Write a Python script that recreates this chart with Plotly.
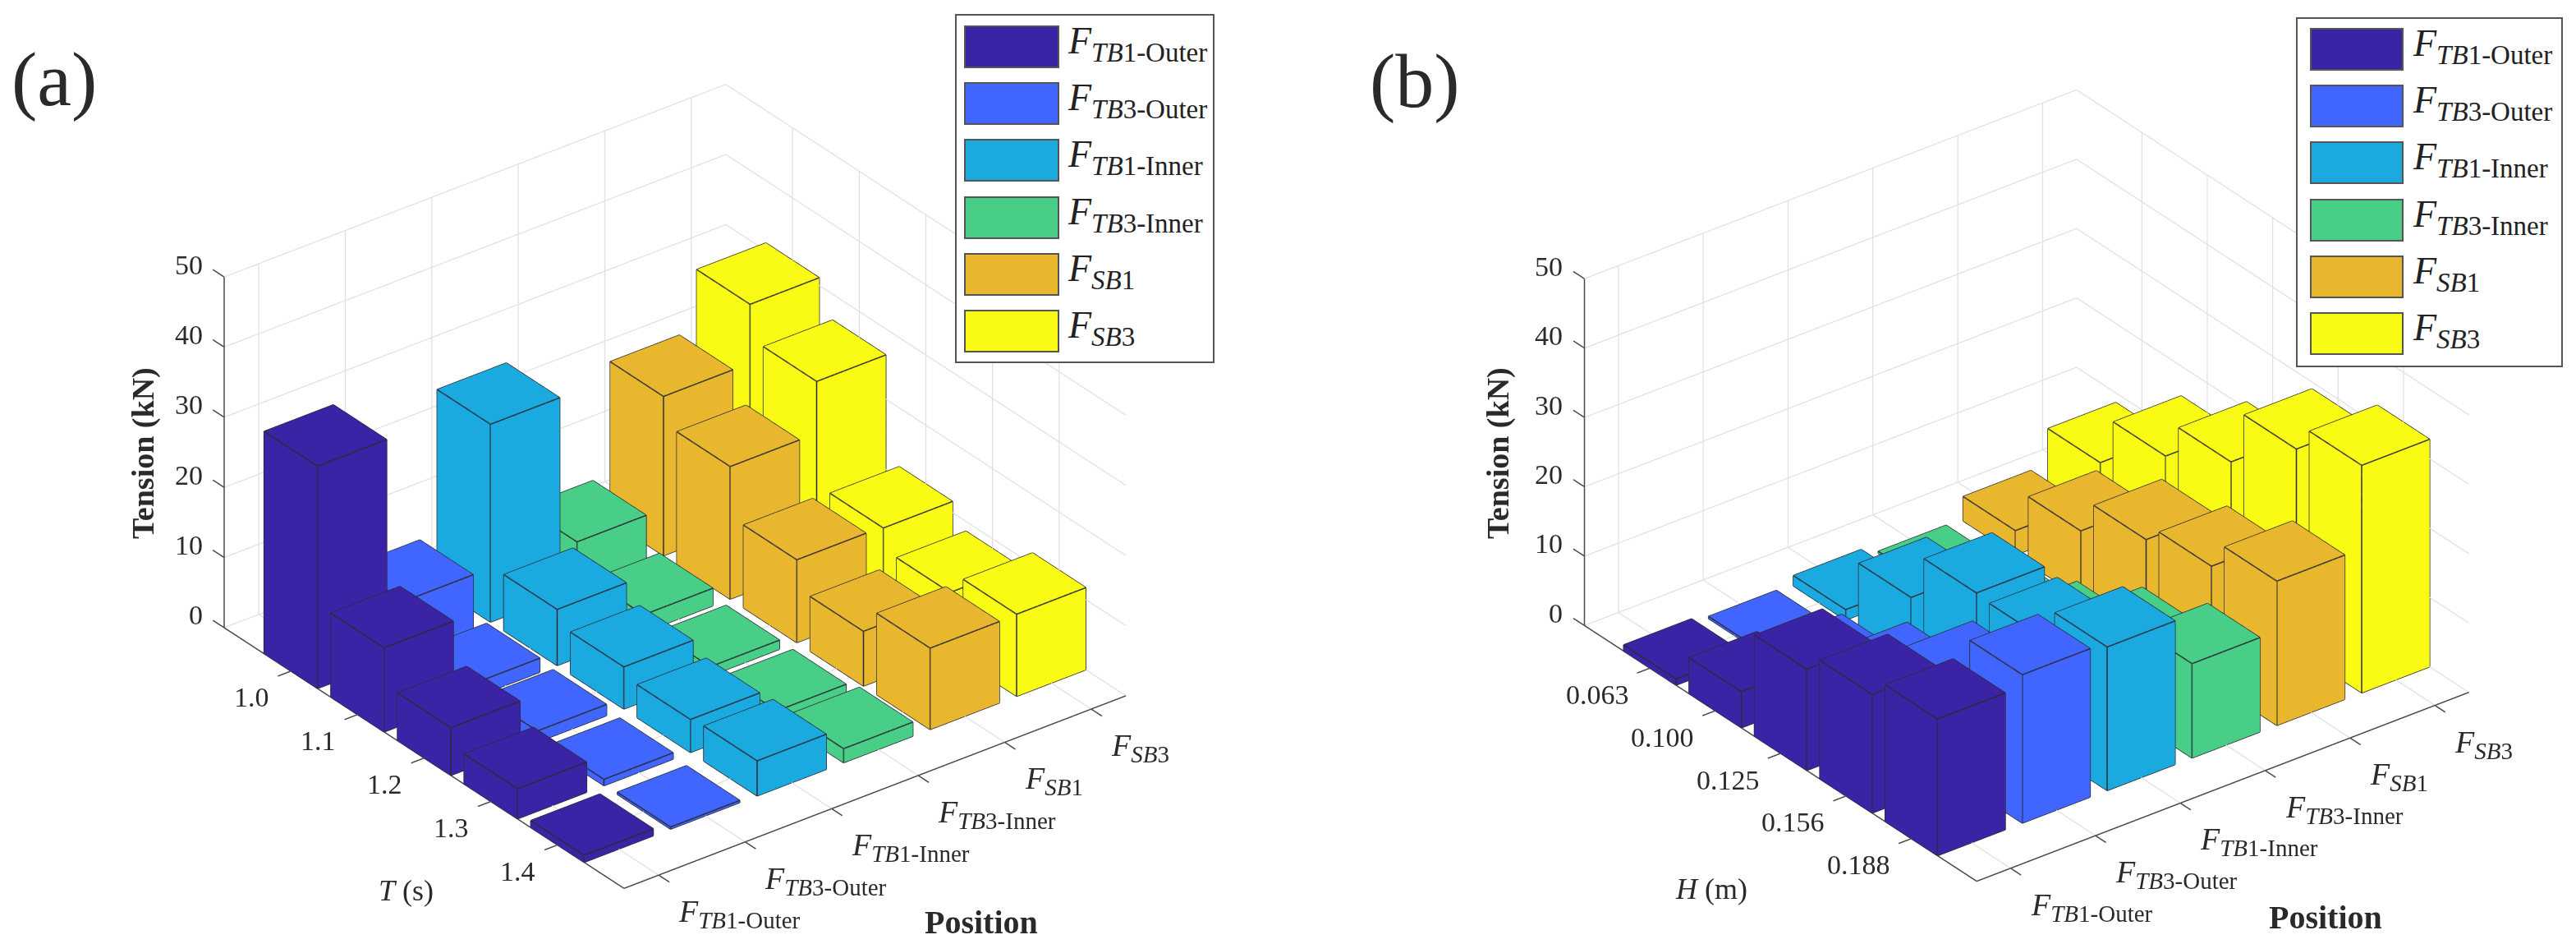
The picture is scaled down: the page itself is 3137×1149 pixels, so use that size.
import math
import plotly.graph_objects as go

W, H = 3137, 1149
FONT = "Liberation Serif"
TXT = "#2a2a2a"


def sub_label(main, plain, size):
    return f'<i>F</i><sub><span style="font-size:{size}px"><i>{main}</i>{plain}</span></sub>'


T_LABELS = ["1.0", "1.1", "1.2", "1.3", "1.4"]
H_LABELS = ["0.063", "0.100", "0.125", "0.156", "0.188"]
POS_PARTS = [("TB", "1-Outer"), ("TB", "3-Outer"), ("TB", "1-Inner"), ("TB", "3-Inner"), ("SB", "1"), ("SB", "3")]
COLORS = ["#3B23A6", "#4166FF", "#1AAAE0", "#48CE87", "#E9B72E", "#F9FB14"]
Z_TICKS = [0, 10, 20, 30, 40, 50]

# Panel (a): tension against wave period, one list per position
a_tb1_outer = [31.7, 12.0, 6.8, 4.3, 1.0]
a_tb3_outer = [7.7, 2.0, 1.6, 0.9, 0.3]
a_tb1_inner = [28.2, 8.0, 6.0, 4.7, 5.0]
a_tb3_inner = [6.7, 2.5, 1.3, 1.2, 2.0]
a_sb1 = [22.7, 18.9, 11.8, 7.8, 11.6]
a_sb3 = [31.1, 26.3, 11.6, 8.6, 11.7]
# Panel (b): tension against wave height
b_tb1_outer = [0.9, 5.2, 14.6, 17.1, 19.7]
b_tb3_outer = [0.3, 3.0, 8.0, 14.3, 21.4]
b_tb1_inner = [1.5, 9.4, 16.2, 15.9, 20.7]
b_tb3_inner = [0.3, 2.0, 4.5, 9.8, 13.6]
b_sb1 = [3.5, 9.6, 14.5, 16.8, 20.8]
b_sb3 = [8.6, 15.7, 21.0, 29.0, 32.8]

XLIM = (0.0, 6.0)
YLIM = (0.6, 6.4)
ZLIM = (0, 50)
MX, MY = 0.2, 0.2
BW = 0.4
AZ = math.radians(52.5)
EL = math.radians(30)


def box_mesh(series):
    xs, ys, zs, i, j, k = [], [], [], [], [], []
    ex, ey, ez = [], [], []
    faces = [(0, 1, 2), (0, 2, 3), (4, 5, 6), (4, 6, 7), (0, 1, 5), (0, 5, 4),
             (1, 2, 6), (1, 6, 5), (2, 3, 7), (2, 7, 6), (3, 0, 4), (3, 4, 7)]
    edges = [(0, 1), (1, 2), (2, 3), (3, 0), (4, 5), (5, 6), (6, 7), (7, 4),
             (0, 4), (1, 5), (2, 6), (3, 7)]
    for col, vals in series:
        for row, v in enumerate(vals, start=1):
            x0, x1 = row - BW, row + BW
            y0, y1 = col - BW, col + BW
            n = len(xs)
            pts = [(x0, y0, 0), (x1, y0, 0), (x1, y1, 0), (x0, y1, 0),
                   (x0, y0, v), (x1, y0, v), (x1, y1, v), (x0, y1, v)]
            xs += [p[0] for p in pts]
            ys += [p[1] for p in pts]
            zs += [p[2] for p in pts]
            for a, b, c in faces:
                i.append(n + a); j.append(n + b); k.append(n + c)
            for a, b in edges:
                ex += [pts[a][0], pts[b][0], None]
                ey += [pts[a][1], pts[b][1], None]
                ez += [pts[a][2], pts[b][2], None]
    return xs, ys, zs, i, j, k, ex, ey, ez


def segs(items):
    ex, ey, ez = [], [], []
    for a, b in items:
        ex += [a[0], b[0], None]
        ey += [a[1], b[1], None]
        ez += [a[2], b[2], None]
    return ex, ey, ez


def add_panel(fig, scene, rows, columns):
    ncol = len(columns)
    nrow = len(rows)
    xl, yl, zl = XLIM, YLIM, ZLIM
    grid = []
    for y in range(1, ncol + 1):
        grid += [((xl[0], y, zl[0]), (xl[0], y, zl[1])), ((xl[0], y, 0), (xl[1], y, 0))]
    for x in range(1, nrow + 1):
        grid += [((x, yl[1], zl[0]), (x, yl[1], zl[1])), ((x, yl[0], 0), (x, yl[1], 0))]
    for z in Z_TICKS:
        grid += [((xl[0], yl[0], z), (xl[0], yl[1], z)), ((xl[0], yl[1], z), (xl[1], yl[1], z))]
    gx, gy, gz = segs(grid)
    fig.add_trace(go.Scatter3d(x=gx, y=gy, z=gz, mode="lines", scene=scene, hoverinfo="skip",
                               showlegend=False, line=dict(color="#e0e0e0", width=2.5)))
    axes = [((xl[0], yl[0], zl[0]), (xl[0], yl[0], zl[1])),
            ((xl[0], yl[0], 0), (xl[1], yl[0], 0)),
            ((xl[1], yl[0], 0), (xl[1], yl[1], 0))]
    for z in Z_TICKS:
        axes.append(((xl[0], yl[0], z), (xl[0] - 0.17, yl[0], z)))
    for x in range(1, nrow + 1):
        axes.append(((x, yl[0], 0), (x, yl[0] - 0.15, 0)))
    for y in range(1, ncol + 1):
        axes.append(((xl[1], y, 0), (xl[1] + 0.16, y, 0)))
    ax_x, ax_y, ax_z = segs(axes)
    fig.add_trace(go.Scatter3d(x=ax_x, y=ax_y, z=ax_z, mode="lines", scene=scene, hoverinfo="skip",
                               showlegend=False, line=dict(color="#4a4a4a", width=3)))
    for col, vals in enumerate(columns, start=1):
        xs, ys, zs, i, j, k, ex, ey, ez = box_mesh([(col, vals)])
        fig.add_trace(go.Mesh3d(x=xs, y=ys, z=zs, i=i, j=j, k=k, color=COLORS[col - 1], scene=scene,
                                flatshading=True, hoverinfo="skip", showlegend=False,
                                lighting=dict(ambient=1, diffuse=0, specular=0, roughness=1, fresnel=0)))
        fig.add_trace(go.Scatter3d(x=ex, y=ey, z=ez, mode="lines", scene=scene, hoverinfo="skip",
                                   showlegend=False, line=dict(color="#2a2a33", width=3)))


def hidden_axis(lo, hi):
    return dict(range=[lo, hi], showgrid=False, zeroline=False, showline=False, showticklabels=False,
                ticks="", showbackground=False, showspikes=False, title=dict(text=""), autorange=False)


def scene_layout(cx, cy, half_w, half_h, scale, xyscale, rows):
    anns = []
    for idx, lab in enumerate(rows, start=1):
        anns.append(dict(x=idx, y=YLIM[0], z=0, text=lab, showarrow=False, xshift=rows_shift[len(lab)], yshift=-32,
                         font=dict(family=FONT, size=34, color=TXT)))
    for idx, (m, p) in enumerate(POS_PARTS, start=1):
        anns.append(dict(x=XLIM[1], y=idx, z=0, text=sub_label(m, p, 29), showarrow=False, xanchor="left",
                         xshift=22, yshift=-47, font=dict(family=FONT, size=38, color=TXT)))
    for z in Z_TICKS:
        anns.append(dict(x=XLIM[0], y=YLIM[0], z=z, text=str(z), showarrow=False, xanchor="right", xshift=-24,
                         yshift=15, font=dict(family=FONT, size=34, color=TXT)))
    e = (math.sin(AZ) * math.cos(EL), -math.cos(AZ) * math.cos(EL), math.sin(EL))
    sx = (XLIM[1] - XLIM[0] + 2 * MX) / (XLIM[1] - XLIM[0])
    sy = (YLIM[1] - YLIM[0] + 2 * MY) / (YLIM[1] - YLIM[0])
    return dict(
        domain=dict(x=[(cx - half_w) / W, (cx + half_w) / W], y=[1 - (cy + half_h) / H, 1 - (cy - half_h) / H]),
        xaxis=hidden_axis(XLIM[0] - MX, XLIM[1] + MX),
        yaxis=hidden_axis(YLIM[0] - MY, YLIM[1] + MY),
        zaxis=hidden_axis(ZLIM[0], ZLIM[1]),
        aspectmode="manual",
        aspectratio=dict(x=1.61 * sx * scale * xyscale, y=1.55 * sy * scale * xyscale, z=1.0 * scale),
        camera=dict(eye=dict(x=e[0] * 2, y=e[1] * 2, z=e[2] * 2), up=dict(x=0, y=0, z=1),
                    center=dict(x=0, y=0, z=0), projection=dict(type="orthographic")),
        annotations=anns,
        bgcolor="rgba(0,0,0,0)",
    )


rows_shift = {3: -48, 5: -64}

fig = go.Figure()
add_panel(fig, "scene", T_LABELS, [a_tb1_outer, a_tb3_outer, a_tb1_inner, a_tb3_inner, a_sb1, a_sb3])
add_panel(fig, "scene2", H_LABELS, [b_tb1_outer, b_tb3_outer, b_tb1_inner, b_tb3_inner, b_sb1, b_sb3])


def paper(x, y, text, size, bold=False, angle=0, anchor="center"):
    t = f"<b>{text}</b>" if bold else text
    return dict(xref="paper", yref="paper", x=x / W, y=1 - y / H, text=t, showarrow=False, textangle=angle,
                xanchor=anchor, yanchor="middle", font=dict(family=FONT, size=size, color=TXT))


def legend(x0, x1, y0, y1, sw0, sw1, first, text_x):
    out = [dict(xref="paper", yref="paper", x=(x0 + x1) / 2 / W, y=1 - (y0 + y1) / 2 / H, text=" ", showarrow=False,
                width=x1 - x0 - 4, height=y1 - y0 - 4, borderpad=0, bgcolor="white", bordercolor="#555555",
                borderwidth=2, xanchor="center", yanchor="middle")]
    for n, ((m, p), c) in enumerate(zip(POS_PARTS, COLORS)):
        cy = first + n * 69.2
        out.append(dict(xref="paper", yref="paper", x=(sw0 + sw1) / 2 / W, y=1 - cy / H, text=" ", showarrow=False,
                        width=sw1 - sw0 - 4, height=48, borderpad=0, bgcolor=c, bordercolor="#555555",
                        borderwidth=2, xanchor="center", yanchor="middle"))
        out.append(dict(xref="paper", yref="paper", x=text_x / W, y=1 - (cy - 4) / H, text=sub_label(m, p, 33),
                        showarrow=False, xanchor="left", yanchor="middle",
                        font=dict(family=FONT, size=46, color="#222222")))
    return out


annotations = []
annotations += legend(1163, 1479, 17, 442, 1174, 1290, 57, 1298)
annotations += legend(2796, 3121, 21, 447, 2813, 2927, 60, 2936)
annotations += [
    paper(66, 96, "(a)", 94), paper(1723, 98, "(b)", 94),
    paper(174, 552, "Tension (kN)", 38, True, -90), paper(1824, 552, "Tension (kN)", 38, True, -90),
    paper(494, 1084, "<i>T</i> (s)", 36), paper(2084, 1082, "<i>H</i> (m)", 36),
    paper(1195, 1122, "Position", 40, True), paper(2832, 1116, "Position", 40, True),
]

fig.update_layout(
    width=W, height=H, margin=dict(l=0, r=0, t=0, b=0), paper_bgcolor="white", showlegend=False,
    scene=scene_layout(822, 592, 669, 557, 0.885, 1.008, T_LABELS),
    scene2=scene_layout(2468, 591, 669, 557, 0.875, 1.0, H_LABELS),
    annotations=annotations,
)
fig.write_html("out.html", config=dict(displayModeBar=False),
               post_script="document.body.style.margin='0';")
